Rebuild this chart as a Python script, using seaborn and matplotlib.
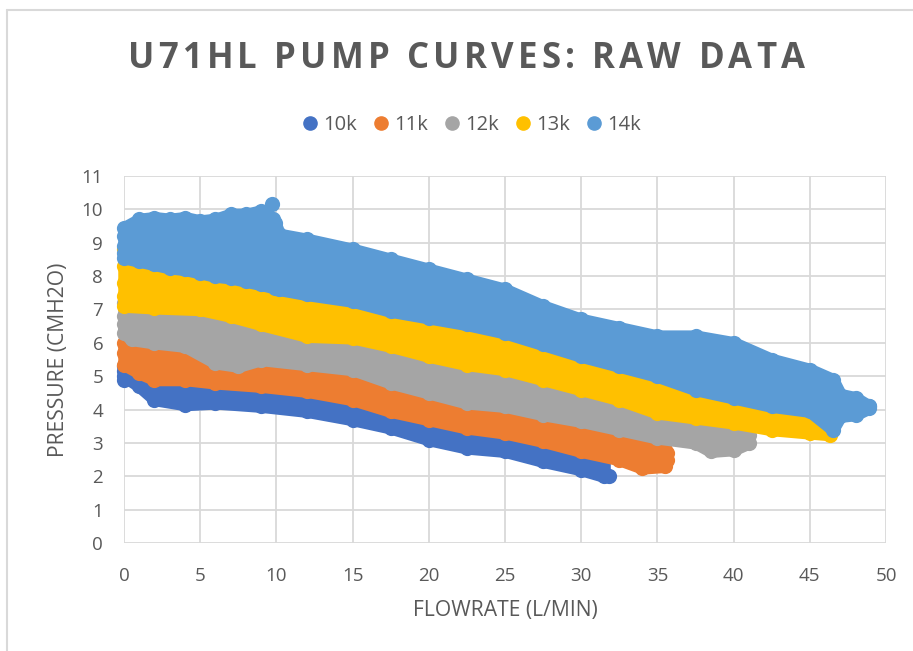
import matplotlib
matplotlib.use("Agg")
import matplotlib.pyplot as plt
import pandas as pd
import seaborn as sns
from matplotlib.lines import Line2D

# === Data (marker centres along band edges) === #
speeds = ["10k", "11k", "12k", "13k", "14k"]
colors = ["#4472C4", "#ED7D31", "#A5A5A5", "#FFC000", "#5B9BD5"]

flow_10k = [0, 1, 2, 4, 6, 9, 12, 15, 17.5, 20, 22.5, 25, 27.5, 30, 31.5]
top_10k = [5.3, 5.4, 5.2, 5.2, 5.1, 5.0, 4.9, 4.6, 4.3, 4.0, 3.8, 3.6, 3.35, 3.1, 2.6]
bot_10k = [5.0, 4.7, 4.3, 4.15, 4.2, 4.1, 3.95, 3.7, 3.45, 3.1, 2.85, 2.75, 2.45, 2.2, 2.0]

flow_11k = [0, 1, 2, 4, 6, 9, 12, 15, 17.5, 20, 22.5, 25, 27.5, 30, 32.5, 34, 35.5]
top_11k = [6.0, 6.3, 6.3, 6.2, 5.8, 5.8, 5.7, 5.5, 5.2, 4.9, 4.6, 4.45, 4.2, 4.0, 3.7, 3.5, 2.8]
bot_11k = [5.35, 5.1, 4.9, 4.9, 4.8, 4.7, 4.55, 4.3, 3.95, 3.7, 3.45, 3.3, 3.05, 2.75, 2.5, 2.25, 2.3]

flow_12k = [0, 0.5, 2, 4, 6, 7.5, 9, 12, 15, 17.5, 20, 22.5, 25, 27.5, 30, 32.5, 35, 37.5, 38.5, 40, 41]
top_12k = [7.2, 7.4, 7.4, 7.35, 7.3, 7.2, 6.9, 6.6, 6.5, 6.3, 6.0, 5.7, 5.5, 5.2, 4.9, 4.6, 4.3,
           4.1, 4.0, 3.9, 3.5]
bot_12k = [6.3, 6.1, 6.0, 5.9, 5.4, 5.3, 5.5, 5.35, 5.2, 4.8, 4.5, 4.2, 4.1, 3.85, 3.65, 3.4, 3.15,
           3.0, 2.75, 2.8, 3.0]

flow_13k = [0, 2, 5, 7, 9, 12, 15, 17.5, 20, 22.5, 25, 27.5, 30, 32.5, 35, 37.5, 40, 42.5, 45, 46.3]
top_13k = [8.8, 8.6, 8.4, 8.3, 8.1, 7.8, 7.6, 7.3, 7.1, 6.9, 6.6, 6.3, 6.0, 5.7, 5.4, 5.0, 4.7,
           4.45, 4.3, 3.9]
bot_13k = [7.1, 7.05, 7.0, 6.8, 6.55, 6.2, 6.15, 5.9, 5.6, 5.35, 5.2, 4.9, 4.6, 4.3, 3.9, 3.75,
           3.6, 3.4, 3.3, 3.25]

flow_14k = [0, 1, 2, 3, 4, 5, 6, 7, 8, 9, 9.9, 10.2, 12, 15, 17.5, 20, 22.5, 25, 27.5, 30, 32.5,
            35, 37.5, 40, 42.5, 45, 46.5, 47, 48, 48.9]
top_14k = [9.45, 9.7, 9.75, 9.7, 9.75, 9.65, 9.7, 9.85, 9.85, 9.95, 9.6, 9.25, 9.1, 8.8, 8.5,
           8.2, 7.9, 7.6, 7.1, 6.7, 6.45, 6.2, 6.2, 6.0, 5.5, 5.2, 4.9, 4.45, 4.35, 4.1]
bot_14k = [8.55, 8.45, 8.35, 8.25, 8.2, 8.1, 8.0, 7.95, 7.85, 7.75, 7.65, 7.6, 7.45, 7.25, 6.95,
           6.75, 6.55, 6.3, 5.95, 5.6, 5.3, 5.0, 4.6, 4.35, 4.1, 3.95, 3.4, 3.8, 3.85, 4.05]

# extra readings at the start / end columns and stray points of each run
cap_flow = {
    "10k": [0, 0, 31.8],
    "11k": [0, 35.6, 35.6],
    "12k": [0, 0, 41.0],
    "13k": [0, 0, 0, 46.4],
    "14k": [0, 0, 0, 9.7, 9.8, 48.9],
}
cap_pres = {
    "10k": [5.15, 4.9, 2.0],
    "11k": [5.7, 2.5, 2.7],
    "12k": [6.8, 6.55, 3.25],
    "13k": [8.3, 7.8, 7.4, 3.5],
    "14k": [9.2, 8.9, 8.7, 10.15, 9.7, 4.1],
}

bands = {
    "10k": (flow_10k, top_10k, bot_10k),
    "11k": (flow_11k, top_11k, bot_11k),
    "12k": (flow_12k, top_12k, bot_12k),
    "13k": (flow_13k, top_13k, bot_13k),
    "14k": (flow_14k, top_14k, bot_14k),
}

TITLE = "U71HL PUMP CURVES: RAW DATA"
TEXT = "#595959"
GRID = "#D9D9D9"
FONT = ["Open Sans", "DejaVu Sans"]

sns.set_style("white")
plt.rcParams["font.family"] = FONT

fig = plt.figure(figsize=(9.13, 6.51), dpi=100)
ax = fig.add_axes([124 / 913, 1 - 543 / 651, (886 - 124) / 913, (543 - 176) / 651])

for i, (name, color) in enumerate(zip(speeds, colors)):
    flow, top, bot = bands[name]
    # dense run of readings -> solid band; a round stroke gives the marker radius
    band = ax.fill_between(flow, bot, top, color=color, edgecolor=color, linewidth=9,
                           zorder=2 + i, clip_on=False)
    band.set_joinstyle("round")
    band.set_capstyle("round")
    pts = pd.DataFrame({
        "Flowrate": list(flow) + list(flow) + cap_flow[name],
        "Pressure": list(top) + list(bot) + cap_pres[name],
    })
    sns.scatterplot(
        data=pts, x="Flowrate", y="Pressure", ax=ax, color=color, s=120,
        linewidth=0, zorder=2 + i, legend=False, clip_on=False,
    )

ax.set_xlim(0, 50)
ax.set_ylim(0, 11)
ax.set_xticks(range(0, 51, 5))
ax.set_yticks(range(0, 12))
ax.grid(True, color=GRID, linewidth=1.3, zorder=0)
ax.set_axisbelow(True)
for sp in ax.spines.values():
    sp.set_visible(False)
ax.tick_params(axis="both", length=0, labelsize=13.5, colors=TEXT)
ax.tick_params(axis="x", pad=17)
ax.tick_params(axis="y", pad=15)
ax.set_xlabel("FLOWRATE (L/MIN)", fontsize=15.2, color=TEXT, labelpad=11)
ax.set_ylabel("PRESSURE (CMH2O)", fontsize=15.2, color=TEXT, labelpad=9)

# title with Excel-like letter spacing: lay the characters out one by one
renderer = fig.canvas.get_renderer()
title_kw = dict(fontsize=25, fontweight="bold", color=TEXT, va="center", ha="left")
widths = []
for ch in TITLE:
    t = fig.text(0, 0, ch if ch != " " else "\u00a0", **title_kw)
    widths.append(t.get_window_extent(renderer).width)
    t.remove()
target_w = 677
track = (target_w - sum(widths)) / (len(TITLE) - 1)
x_px = 128
for ch, w in zip(TITLE, widths):
    if ch != " ":
        fig.text(x_px / 913, 1 - 59 / 651, ch, **title_kw)
    x_px += w + track

handles = [Line2D([], [], marker="o", linestyle="", markersize=9.5, color=c) for c in colors]
fig.legend(handles, speeds, loc="center", bbox_to_anchor=(472 / 913, 1 - 125 / 651), ncol=5,
           frameon=False, fontsize=14.5, labelcolor=TEXT, handlelength=0.7,
           handletextpad=0.3, columnspacing=0.85)

# chart-area border (cropped on the right and bottom)
fig.add_artist(Line2D([7 / 913, 7 / 913], [0, 1 - 10 / 651], color=GRID, linewidth=1.5))
fig.add_artist(Line2D([7 / 913, 1], [1 - 10 / 651, 1 - 10 / 651], color=GRID, linewidth=1.5))

fig.savefig("out.png", dpi=100)
